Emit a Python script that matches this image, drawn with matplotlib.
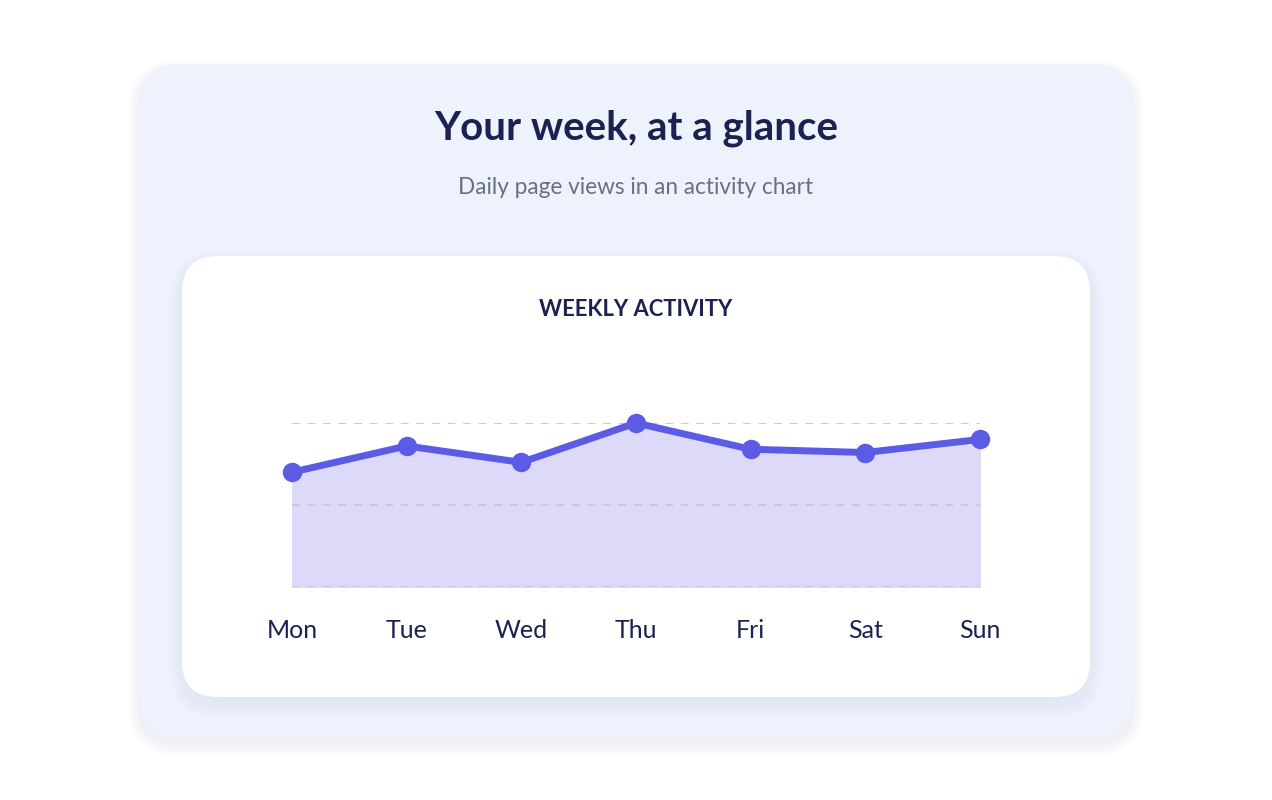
import matplotlib.pyplot as plt
from matplotlib.patches import FancyBboxPatch

days = ["Mon", "Tue", "Wed", "Thu", "Fri", "Sat", "Sun"]
views = [70, 86, 76, 100, 84, 82, 90]
grid_levels = [0, 50, 100]

W, H = 1272, 800
fig = plt.figure(figsize=(12.72, 8), dpi=100)
fig.patch.set_facecolor("white")
bg = fig.add_axes([0, 0, 1, 1])
bg.set_xlim(0, W)
bg.set_ylim(H, 0)
bg.axis("off")


def card(x0, y0, x1, y1, r, color, shadow=True):
    if shadow:
        for i in range(8):
            grow = 3 * (i + 1)
            bg.add_patch(FancyBboxPatch(
                (x0 - grow / 2, y0 + 8 - grow / 2), x1 - x0 + grow, y1 - y0 + grow,
                boxstyle=f"round,pad=0,rounding_size={r + grow / 2}",
                fc="#c8d0ea", ec="none", alpha=0.03))
    bg.add_patch(FancyBboxPatch(
        (x0, y0), x1 - x0, y1 - y0,
        boxstyle=f"round,pad=0,rounding_size={r}", fc=color, ec="none"))


card(140, 64, 1132, 736, 40, "#eef2fd")
card(182, 256, 1090, 697, 36, "white")

navy = "#1b2150"
bg.text(636, 128, "Your week, at a glance", ha="center", va="center",
        fontsize=29, fontweight="bold", color=navy, family="Lato")
bg.text(636, 188, "Daily page views in an activity chart", ha="center",
        va="center", fontsize=16.3, color="#687089", family="Lato")
bg.text(636, 310, "WEEKLY ACTIVITY", ha="center", va="center",
        fontsize=15.8, fontweight="bold", color=navy, family="Lato")

# chart area
ax = fig.add_axes([292 / W, (H - 587) / H, (980 - 292) / W, (587 - 423) / H])
ax.patch.set_alpha(0)
x = list(range(len(days)))
ax.set_xlim(0, len(days) - 1)
ax.set_ylim(0, 100)
ax.fill_between(x, views, 0, color="#dcdaf8", zorder=1)
for g in grid_levels:
    ax.axhline(g, color="#c9c9d6", lw=1.4, ls=(0, (4, 4)), zorder=2)
ax.plot(x, views, color="#5b5be6", lw=5, marker="o", ms=13,
        solid_joinstyle="round", zorder=3, clip_on=False)
ax.set_xticks(x)
ax.set_xticklabels(days, fontsize=18, color=navy, family="Lato")
ax.tick_params(axis="x", length=0, pad=23)
ax.set_yticks([])
for s in ax.spines.values():
    s.set_visible(False)

fig.savefig("out.png", dpi=100)
